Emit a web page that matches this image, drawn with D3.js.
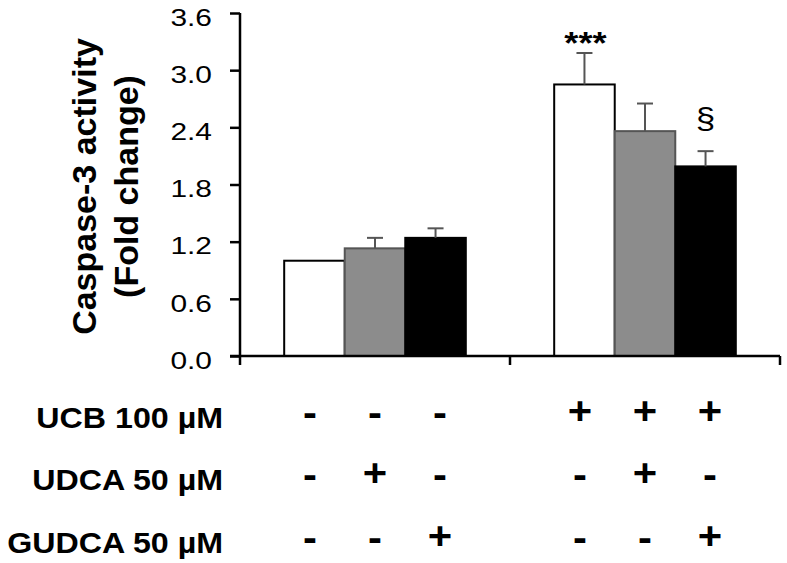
<!DOCTYPE html>
<html>
<head>
<meta charset="utf-8">
<script src="https://cdn.jsdelivr.net/npm/d3@7"></script>
<style>
html,body{margin:0;padding:0;background:#fff;}
svg{display:block;font-family:"Liberation Sans",Arial,sans-serif;}
</style>
</head>
<body>
<svg id="chart" width="787" height="563"></svg>
<script>
// ---- data ----
const groups = ["noUCB", "UCB"];
const treatments = ["Control", "UDCA", "GUDCA"];
const meansNoUCB = [1.00, 1.13, 1.24];
const errsNoUCB  = [0.00, 0.11, 0.10];
const meansUCB   = [2.85, 2.36, 1.99];
const errsUCB    = [0.33, 0.29, 0.16];
const yTicks = [0.0, 0.6, 1.2, 1.8, 2.4, 3.0, 3.6];
const yLabel1 = "Caspase-3 activity";
const yLabel2 = "(Fold change)";
const rowLabels = ["UCB 100 µM", "UDCA 50 µM", "GUDCA 50 µM"];
const signsUCB   = ["-", "-", "-", "+", "+", "+"];
const signsUDCA  = ["-", "+", "-", "-", "+", "-"];
const signsGUDCA = ["-", "-", "+", "-", "-", "+"];
const annotations = [
  {group: "UCB", treatment: "Control", text: "***"},
  {group: "UCB", treatment: "GUDCA", text: "§"}
];
const fills = ["#ffffff", "#8c8c8c", "#000000"];
const strokes = ["#000000", "#555555", "#000000"];

const rows = [];
groups.forEach((g, gi) => {
  const m = gi === 0 ? meansNoUCB : meansUCB;
  const e = gi === 0 ? errsNoUCB : errsUCB;
  treatments.forEach((t, ti) => rows.push({group: g, treatment: t, ti, mean: m[ti], err: e[ti]}));
});

// ---- layout ----
const svg = d3.select("#chart");
const x0 = d3.scaleBand().domain(groups).range([240, 780]);
const x1 = d3.scaleBand().domain(treatments).range([0, x0.bandwidth()]).paddingOuter(0.73).paddingInner(0);
const y = d3.scaleLinear().domain([0, 3.6]).range([356, 13]);

// bars
const bx = d => x0(d.group) + x1(d.treatment);
svg.append("g").selectAll("rect").data(rows).join("rect")
  .attr("x", bx)
  .attr("y", d => y(d.mean))
  .attr("width", x1.bandwidth())
  .attr("height", d => y(0) - y(d.mean))
  .attr("fill", d => fills[d.ti])
  .attr("stroke", d => strokes[d.ti])
  .attr("stroke-width", 2);

// error bars
const eg = svg.append("g").attr("stroke", "#555").attr("stroke-width", 2).attr("fill", "none");
rows.filter(d => d.err > 0).forEach(d => {
  const cx = bx(d) + x1.bandwidth() / 2;
  eg.append("line").attr("x1", cx).attr("x2", cx).attr("y1", y(d.mean)).attr("y2", y(d.mean + d.err));
  eg.append("line").attr("x1", cx - 8).attr("x2", cx + 8).attr("y1", y(d.mean + d.err)).attr("y2", y(d.mean + d.err));
});

// y axis
const yAxis = d3.axisLeft(y).tickValues(yTicks).tickSize(10).tickSizeOuter(0).tickFormat(d3.format(".1f"));
const yg = svg.append("g").attr("transform", "translate(240,0)").call(yAxis);
yg.select(".domain").attr("stroke", "#000").attr("stroke-width", 2.5).attr("d", `M0,${y(3.6)}V365`);
yg.selectAll(".tick line").attr("stroke", "#000").attr("stroke-width", 2.5);
yg.selectAll(".tick text")
  .attr("x", 0).attr("y", 0).attr("dy", "0.36em")
  .attr("font-size", 23).attr("fill", "#000")
  .attr("font-family", "Liberation Sans, Arial, sans-serif")
  .attr("text-anchor", "end")
  .attr("transform", `translate(-28,4) scale(1.3,1)`);

// x axis
const xg = svg.append("g").attr("stroke", "#000").attr("stroke-width", 2.5);
xg.append("line").attr("x1", 230).attr("x2", x0.range()[1]).attr("y1", y(0)).attr("y2", y(0));
[x0(groups[1]), x0.range()[1]].forEach(px => {
  xg.append("line").attr("x1", px).attr("x2", px).attr("y1", y(0)).attr("y2", y(0) + 9);
});

// y label
const yl = svg.append("g").attr("transform", `translate(0,${(y(0) + y(3.6)) / 2 + 2})`)
  .attr("font-weight", "bold").attr("font-size", 34).attr("text-anchor", "middle").attr("fill", "#000");
yl.append("text").attr("transform", "translate(96,0) rotate(-90)").text(yLabel1);
yl.append("text").attr("transform", "translate(138,0) rotate(-90)").text(yLabel2);

// annotations
annotations.forEach(a => {
  const d = rows.find(r => r.group === a.group && r.treatment === a.treatment);
  const cx = bx(d) + x1.bandwidth() / 2;
  const top = y(d.mean + d.err);
  const isStar = a.text === "***";
  svg.append("text")
    .attr("transform", `translate(${cx + (isStar ? 1 : 0)},${isStar ? top + 1 : top - 22}) scale(${isStar ? 1.13 : 1.17},1)`)
    .attr("text-anchor", "middle")
    .attr("font-size", isStar ? 32 : 30)
    .attr("font-weight", isStar ? "bold" : "normal")
    .attr("fill", "#000")
    .text(a.text);
});

// treatment table
const rowY = [428, 490, 553];
const signRows = [signsUCB, signsUDCA, signsGUDCA];
const cols = rows.map(d => x0(d.group) + x0.bandwidth() / 2 + (d.ti - 1) * 65);
rowLabels.forEach((lab, i) => {
  svg.append("text")
    .attr("transform", `translate(223,${rowY[i]}) scale(1.11,1)`)
    .attr("text-anchor", "end").attr("font-size", 29).attr("font-weight", "bold").attr("fill", "#000")
    .text(lab);
  signRows[i].forEach((s, j) => {
    svg.append("text")
      .attr("transform", `translate(${cols[j]},${rowY[i] - (s === "+" ? 4 : 2)}) scale(1.1,1)`)
      .attr("text-anchor", "middle").attr("font-size", 38).attr("font-weight", "bold").attr("fill", "#000")
      .text(s);
  });
});
</script>
</body>
</html>
